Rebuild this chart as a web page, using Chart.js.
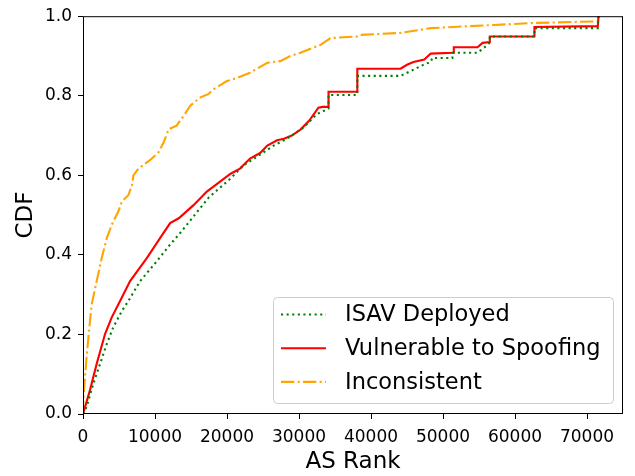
<!DOCTYPE html>
<html lang="en">
<head>
  <meta charset="UTF-8">
  <title>AS Rank CDF</title>
  <script src="https://cdn.jsdelivr.net/npm/chart.js"></script>
  <style>
    body { margin: 0; background: #fff; }
    canvas { display: block; }
  </style>
</head>
<body>
  <canvas id="cdfChart" width="635" height="476"></canvas>

  <script>
    // values
    const xTicks = [0, 10000, 20000, 30000, 40000, 50000, 60000, 70000];
    const yTicks = [0, 0.2, 0.4, 0.6, 0.8, 1.0];

    const isavRank = [0, 500, 1430, 2370, 3300, 4200, 5400, 6300, 7930, 10250, 12100, 13500, 15500, 17500, 20500, 22300, 25100, 26500, 27900, 29000, 30600, 32500, 33900, 34100, 34100, 38100, 38100, 44100, 45500, 47400, 48300, 48500, 51300, 51300, 54800, 56200, 56500, 56500, 62700, 62700, 71500, 71600];
    const isavCdf = [0, 0.018, 0.076, 0.126, 0.176, 0.218, 0.259, 0.284, 0.334, 0.384, 0.426, 0.455, 0.50, 0.545, 0.592, 0.625, 0.658, 0.675, 0.688, 0.70, 0.72, 0.754, 0.766, 0.768, 0.802, 0.802, 0.85, 0.85, 0.862, 0.879, 0.885, 0.895, 0.895, 0.908, 0.908, 0.928, 0.935, 0.949, 0.949, 0.970, 0.970, 1.0];

    const vulnRank = [0, 970, 1900, 3060, 3990, 5150, 6540, 8860, 10700, 12100, 13300, 15350, 17200, 20500, 21800, 23200, 24600, 25600, 26960, 27900, 29000, 30200, 31400, 32700, 33300, 34100, 34100, 38100, 38100, 44100, 45000, 45900, 47400, 48300, 51400, 51500, 54800, 55500, 56500, 56500, 62700, 62700, 71500, 71600];
    const vulnCdf = [0, 0.06, 0.126, 0.201, 0.243, 0.284, 0.334, 0.392, 0.442, 0.48, 0.492, 0.525, 0.559, 0.604, 0.617, 0.642, 0.656, 0.675, 0.688, 0.692, 0.70, 0.715, 0.737, 0.77, 0.772, 0.772, 0.81, 0.81, 0.868, 0.868, 0.878, 0.885, 0.891, 0.906, 0.908, 0.922, 0.922, 0.933, 0.935, 0.949, 0.949, 0.973, 0.975, 1.0];

    const inconRank = [0, 70, 500, 970, 1200, 1900, 2600, 3300, 4000, 4900, 5400, 6300, 6800, 7000, 7700, 9300, 10500, 11200, 11900, 13000, 14000, 14900, 16300, 17400, 18100, 20000, 21400, 23200, 25600, 27400, 28800, 30200, 33000, 34400, 38100, 38500, 44100, 48300, 51500, 57100, 62700, 71500, 71600];
    const inconCdf = [0, 0.043, 0.143, 0.234, 0.275, 0.334, 0.392, 0.442, 0.476, 0.509, 0.534, 0.55, 0.575, 0.60, 0.617, 0.638, 0.658, 0.683, 0.716, 0.725, 0.75, 0.775, 0.796, 0.804, 0.816, 0.837, 0.845, 0.858, 0.883, 0.887, 0.90, 0.908, 0.928, 0.945, 0.949, 0.953, 0.958, 0.970, 0.973, 0.978, 0.983, 0.987, 1.0];

    const toPoints = (xs, ys) => xs.map((x, i) => ({ x: x, y: ys[i] }));

    const FONT = "'DejaVu Sans', sans-serif";

    // axes frame on all four sides, like matplotlib spines
    const framePlugin = {
      id: 'frame',
      afterDatasetsDraw(chart) {
        const { ctx, chartArea: a } = chart;
        ctx.save();
        ctx.strokeStyle = '#000';
        ctx.lineWidth = 1;
        ctx.strokeRect(a.left + 0.5, a.top + 0.5, a.right - a.left - 1, a.bottom - a.top - 1);
        ctx.restore();
      }
    };

    // legend box in the lower right of the plot
    const legendPlugin = {
      id: 'boxLegend',
      afterDraw(chart) {
        const ctx = chart.ctx;
        const a = chart.chartArea;
        const bx = a.right - 350, by = a.bottom - 117, bw = 340, bh = 106;
        ctx.save();
        ctx.beginPath();
        ctx.roundRect(bx + 0.5, by + 0.5, bw, bh, 4);
        ctx.fillStyle = 'rgba(255,255,255,0.8)';
        ctx.fill();
        ctx.strokeStyle = '#cccccc';
        ctx.lineWidth = 1;
        ctx.stroke();
        ctx.font = '22.5px ' + FONT;
        ctx.textBaseline = 'middle';
        chart.data.datasets.forEach((ds, i) => {
          const y = by + 17.5 + i * 33.7;
          ctx.beginPath();
          ctx.setLineDash(ds.borderDash || []);
          ctx.strokeStyle = ds.borderColor;
          ctx.lineWidth = ds.borderWidth;
          ctx.moveTo(bx + 8, y);
          ctx.lineTo(bx + 53, y);
          ctx.stroke();
          ctx.setLineDash([]);
          ctx.fillStyle = '#000';
          ctx.fillText(ds.label, bx + 72, y + 1);
        });
        ctx.restore();
      }
    };

    new Chart(document.getElementById('cdfChart'), {
      type: 'line',
      data: {
        datasets: [
          {
            label: 'ISAV Deployed',
            data: toPoints(isavRank, isavCdf),
            borderColor: '#008000',
            borderWidth: 2.1,
            borderDash: [2.1, 3.5]
          },
          {
            label: 'Vulnerable to Spoofing',
            data: toPoints(vulnRank, vulnCdf),
            borderColor: '#ff0000',
            borderWidth: 2.1
          },
          {
            label: 'Inconsistent',
            data: toPoints(inconRank, inconCdf),
            borderColor: '#ffa500',
            borderWidth: 2.1,
            borderDash: [13.3, 3.3, 2.1, 3.3]
          }
        ]
      },
      options: {
        responsive: false,
        animation: false,
        parsing: false,
        elements: { point: { radius: 0 }, line: { tension: 0, fill: false } },
        layout: { padding: { top: 13, right: 12, left: 0, bottom: 0 } },
        plugins: { legend: { display: false }, tooltip: { enabled: false } },
        scales: {
          x: {
            type: 'linear',
            min: 0,
            max: 75000,
            afterBuildTicks: s => { s.ticks = xTicks.map(v => ({ value: v })); },
            afterFit: s => { s.height = 62; },
            grid: { display: true, drawOnChartArea: false, drawTicks: true, tickLength: 5, tickColor: '#000' },
            border: { display: false },
            ticks: { color: '#000', padding: 8, maxRotation: 0, callback: v => String(v), font: { family: FONT, size: 17 } },
            title: { display: true, text: 'AS Rank', color: '#000', padding: { top: 3, bottom: 0 }, font: { family: FONT, size: 23 } }
          },
          y: {
            type: 'linear',
            min: 0,
            max: 1,
            afterBuildTicks: s => { s.ticks = yTicks.map(v => ({ value: v })); },
            afterFit: s => { s.width = 83; },
            grid: { display: true, drawOnChartArea: false, drawTicks: true, tickLength: 5, tickColor: '#000' },
            border: { display: false },
            ticks: { color: '#000', padding: 6, callback: v => v.toFixed(1), font: { family: FONT, size: 17 } },
            title: { display: true, text: 'CDF', color: '#000', padding: { top: 12, bottom: 0 }, font: { family: FONT, size: 23 } }
          }
        }
      },
      plugins: [framePlugin, legendPlugin]
    });
  </script>
</body>
</html>
